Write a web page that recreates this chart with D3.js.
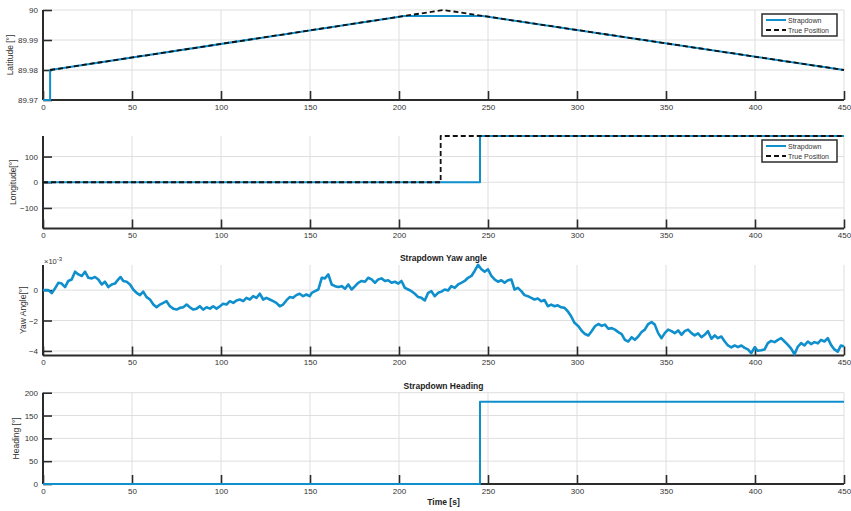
<!DOCTYPE html>
<html><head><meta charset="utf-8">
<script src="https://cdn.jsdelivr.net/npm/d3@7"></script>
<style>
body{margin:0;background:#fff;}
svg{display:block;font-family:"Liberation Sans",Arial,sans-serif;}
</style></head>
<body><svg id="c" width="851" height="511"></svg>
<script>
// ---------- DATA ----------
const timeTicks = [0,50,100,150,200,250,300,350,400,450];

// Latitude [deg]
const latStrapT = [0, 4, 4, 203, 247, 450];
const latStrapV = [89.97, 89.97, 89.98, 89.998, 89.998, 89.98];
const latTrueT  = [4, 225, 450];
const latTrueV  = [89.98, 90.0, 89.98];
const latTicks  = [89.97, 89.98, 89.99, 90];

// Longitude [deg]
const lonStrapT = [0, 245.5, 245.5, 450];
const lonStrapV = [0, 0, 180, 180];
const lonTrueT  = [0, 223.4, 223.4, 450];
const lonTrueV  = [0, 0, 180, 180];
const lonTicks  = [-100, 0, 100];

// Yaw angle [x1e-3 deg]
const yawT = [0,3,4.9,6.7,8.6,10.5,12.4,14.2,16.1,18,19.9,21.8,23.6,25.5,27.4,29.2,31.1,33,34.8,36.7,38.6,40.4,42.3,43.6,45.1,47,48.9,50.7,52.6,54.5,56.3,58.2,60.1,62,63.8,65.7,67.6,69.4,71.3,73.2,75.1,76.9,78.8,80.7,82.5,84.4,86.3,88.1,90,91.9,93.8,95.6,97.5,99.4,101.2,103.1,105,106.9,108.7,110.6,112.5,114.3,116.2,118.1,119.9,121.8,123.7,125.5,127.4,129.3,131.1,133,134.9,136.7,138.6,140.5,142.3,144.2,146.1,148,149.8,151,152.8,154.7,156.6,158.4,160.3,162.2,164.1,165.9,167.8,169.7,171.5,173.4,175.3,177.1,179,180.9,182.7,184.6,186.5,188.3,190.2,192.1,193.9,195.8,197.7,199.6,201.4,203.3,205.2,207,208.9,210.8,212.6,214.5,216.4,218.2,220.1,222,223.8,225.7,227.6,229.4,231.3,233.2,235,236.9,238.8,240.7,242.5,244.4,246.3,248.1,250,251.9,253.7,255.6,257.5,259.3,261.2,263.1,264.9,266.8,268.7,270.5,272.4,274.3,276.1,278,279.9,281.7,283.6,285.5,287.4,289.2,291.1,293,294.8,296.7,298.6,300.8,302.6,304.5,306.4,308.2,310.1,312,313.9,315.7,317.6,319.5,321.3,323.2,325.1,326.9,328.8,330.7,332.5,334.4,336.3,338.1,340,341.9,343.7,345.6,347.5,349.3,351.2,353.1,354.9,356.8,358.7,360.5,362.4,364.3,366.1,368,369.9,371.7,373.6,375.5,377.4,379.2,381.1,383,384.8,386.7,388.6,390.4,392.3,394.2,396,397.9,399.8,401.6,403.5,405.4,407.2,409.1,411,412.9,414.7,416.6,418.5,420.3,422.2,424.1,425.9,427.8,429.7,431.5,433.4,435.3,437.1,439,440.9,442.7,444.6,446.5,448.3,450];
const yawV = [0,0,-0.2,0.1,0.48,0.43,0.2,0.6,0.7,1.21,1.03,0.93,1.21,0.81,0.77,0.86,0.7,0.37,0.55,0.2,0.37,0.43,0.7,0.86,0.6,0.55,0.37,0.04,-0.18,-0.33,-0.1,-0.46,-0.62,-0.95,-1.13,-0.95,-0.84,-0.73,-1.06,-1.22,-1.28,-1.17,-1.13,-0.95,-1.13,-1.28,-1.22,-1.06,-1.28,-1.13,-1.22,-1.06,-1.22,-1.06,-0.9,-0.95,-0.73,-0.84,-0.68,-0.62,-0.73,-0.51,-0.62,-0.4,-0.51,-0.24,-0.62,-0.51,-0.62,-0.73,-0.84,-1.06,-0.95,-0.68,-0.46,-0.51,-0.33,-0.24,-0.4,-0.29,-0.4,-0.18,-0.07,0.04,0.81,0.77,1.03,0.37,0.26,0.2,0.26,0.09,0.37,0.04,0.26,0.48,0.6,0.55,0.81,0.7,0.48,0.7,0.77,0.6,0.65,0.48,0.55,0.43,0.6,0.15,0.04,-0.07,-0.24,-0.46,-0.51,-0.68,-0.18,-0.07,-0.4,-0.18,-0.1,0.04,-0.02,0.26,0.15,0.37,0.48,0.6,0.81,0.93,1.26,1.66,1.37,1.21,1.37,0.93,0.7,0.55,0.65,0.48,0.65,0.7,0.04,0.15,-0.07,-0.33,-0.4,-0.51,-0.62,-0.55,-0.73,-0.65,-1.06,-0.95,-1.06,-1.0,-1.13,-1.17,-1.39,-1.72,-2.15,-2.38,-2.67,-2.89,-2.98,-2.7,-2.38,-2.23,-2.35,-2.27,-2.54,-2.5,-2.6,-2.76,-2.89,-3.27,-3.38,-3.1,-3.27,-3.05,-2.76,-2.6,-2.23,-2.1,-2.27,-2.83,-3.16,-2.83,-2.6,-2.7,-2.83,-2.65,-2.94,-2.7,-2.6,-2.83,-2.98,-2.85,-3.1,-2.94,-2.7,-3.2,-2.98,-3.16,-3.05,-3.38,-3.64,-3.77,-3.64,-3.75,-3.64,-3.8,-3.9,-4.15,-3.77,-3.99,-3.95,-3.9,-3.49,-3.34,-3.42,-3.27,-3.16,-3.38,-3.6,-3.85,-4.22,-3.71,-3.49,-3.64,-3.38,-3.55,-3.42,-3.5,-3.27,-3.38,-3.16,-3.6,-3.9,-4.05,-3.64,-3.71];
const yawTicks = [-4, -2, 0];

// Heading [deg]
const hdgT = [0, 245.5, 245.5, 450];
const hdgV = [0, 0, 180, 180];
const hdgTicks = [0, 50, 100, 150, 200];

// ---------- DRAW ----------
const svg = d3.select("#c");
svg.append("rect").attr("width",851).attr("height",511).attr("fill","#fff");
const X0 = 43, X1 = 844;
const x = d3.scaleLinear().domain([0,450]).range([X0,X1]);
const BLUE = "#0f8fcc";
const AXC = "#2b2b2b";
const TXT = "#333";

function panel(cfg){
  const y = d3.scaleLinear().domain(cfg.domain).range([cfg.bottom, cfg.top]);
  const g = svg.append("g");
  const id = "clip"+cfg.name;
  svg.append("clipPath").attr("id",id).append("rect")
    .attr("x",X0).attr("y",cfg.top-2).attr("width",X1-X0+1).attr("height",cfg.bottom-cfg.top+3);
  // grid
  g.append("g").selectAll("line").data(timeTicks).join("line")
    .attr("x1",d=>x(d)).attr("x2",d=>x(d)).attr("y1",cfg.top).attr("y2",cfg.bottom)
    .attr("stroke","#dedede").attr("stroke-width",1);
  g.append("g").selectAll("line").data(cfg.gridY).join("line")
    .attr("x1",X0).attr("x2",X1).attr("y1",d=>y(d)).attr("y2",d=>y(d))
    .attr("stroke","#dedede").attr("stroke-width",1);
  // axes
  const xa = g.append("g").attr("transform",`translate(0,${cfg.bottom})`)
    .call(d3.axisBottom(x).tickValues(timeTicks).tickFormat(d3.format("d")).tickSize(-9).tickPadding(4));
  const ya = g.append("g").attr("transform",`translate(${X0},0)`)
    .call(d3.axisLeft(y).tickValues(cfg.ticks).tickFormat(cfg.fmt).tickSize(-9).tickPadding(5));
  [xa,ya].forEach(a=>{
    a.select(".domain").attr("stroke",AXC).attr("stroke-width",2);
    a.selectAll(".tick line").attr("stroke",AXC).attr("stroke-width",1.6);
    a.selectAll(".tick text").attr("fill",TXT).attr("font-size",8).attr("font-family","Liberation Sans, Arial, sans-serif");
  });
  xa.select(".domain").attr("d",`M${X0},0H${X1}`);
  ya.select(".domain").attr("d",`M0,${cfg.bottom}V${cfg.top}`);
  // y label
  svg.append("text").attr("transform",`translate(${cfg.labelX},${(cfg.top+cfg.bottom)/2}) rotate(-90)`)
    .attr("text-anchor","middle").attr("font-size",8.5).attr("fill",TXT).text(cfg.label);
  if(cfg.title){
    svg.append("text").attr("x",(X0+X1)/2).attr("y",cfg.top-4).attr("text-anchor","middle")
      .attr("font-size",8.5).attr("font-weight","bold").attr("fill","#222").text(cfg.title);
  }
  const lines = svg.append("g").attr("clip-path",`url(#${id})`);
  cfg.series.forEach(s=>{
    const pts = s.t.map((t,i)=>[t,s.v[i]]);
    lines.append("path").attr("d",d3.line().x(d=>x(d[0])).y(d=>y(d[1]))(pts))
      .attr("fill","none").attr("stroke",s.color).attr("stroke-width",s.w)
      .attr("stroke-dasharray",s.dash||null).attr("stroke-linejoin","round");
  });
  if(cfg.legend){
    const lx=762, ly=cfg.top+4, lw=75, lh=22;
    const lg = svg.append("g");
    lg.append("rect").attr("x",lx).attr("y",ly).attr("width",lw).attr("height",lh)
      .attr("fill","#fff").attr("stroke",AXC).attr("stroke-width",1.5);
    cfg.series.forEach((s,i)=>{
      const yy = ly+6+i*10;
      lg.append("line").attr("x1",lx+4).attr("x2",lx+24).attr("y1",yy).attr("y2",yy)
        .attr("stroke",s.color).attr("stroke-width",s.w).attr("stroke-dasharray",s.dash||null);
      lg.append("text").attr("x",lx+26).attr("y",yy+2.5).attr("font-size",7).attr("fill",TXT).text(s.name);
    });
  }
  return y;
}

panel({name:"lat", top:10, bottom:100, domain:[89.97,90], ticks:latTicks, gridY:latTicks,
  fmt:d=>d===90?"90":d3.format(".2f")(d), label:"Latitude [°]", labelX:13, legend:true,
  series:[{name:"Strapdown",t:latStrapT,v:latStrapV,color:BLUE,w:2},
          {name:"True Position",t:latTrueT,v:latTrueV,color:"#111",w:1.8,dash:"5,3"}]});

panel({name:"lon", top:136, bottom:228.5, domain:[-180,180], ticks:lonTicks, gridY:lonTicks,
  fmt:d3.format("d"), label:"Longitude[°]", labelX:16, legend:true,
  series:[{name:"Strapdown",t:lonStrapT,v:lonStrapV,color:BLUE,w:2},
          {name:"True Position",t:lonTrueT,v:lonTrueV,color:"#111",w:1.8,dash:"5,3"}]});

panel({name:"yaw", top:265, bottom:355.5, domain:[-4.3,1.65], ticks:yawTicks, gridY:yawTicks,
  fmt:d3.format("d"), label:"Yaw Angle[°]", labelX:26, title:"Strapdown Yaw angle",
  series:[{name:"Strapdown",t:yawT,v:yawV,color:BLUE,w:2.6}]});
svg.append("text").attr("x",44).attr("y",264).attr("font-size",7.5).attr("fill",TXT)
  .html('×10<tspan dy="-3" font-size="6">-3</tspan>');

panel({name:"hdg", top:392.7, bottom:484, domain:[0,200], ticks:hdgTicks, gridY:hdgTicks,
  fmt:d3.format("d"), label:"Heading [°]", labelX:19, title:"Strapdown Heading",
  series:[{name:"Strapdown",t:hdgT,v:hdgV,color:BLUE,w:2}]});
svg.append("text").attr("x",(X0+X1)/2).attr("y",505).attr("text-anchor","middle")
  .attr("font-size",8.5).attr("font-weight","bold").attr("fill","#222").text("Time [s]");
</script></body></html>
